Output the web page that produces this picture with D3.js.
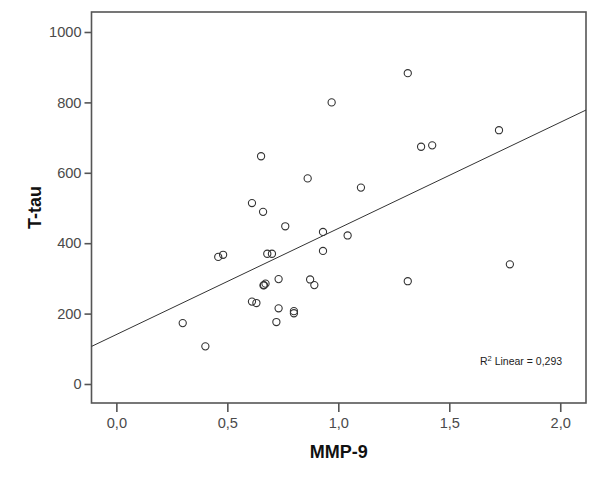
<!DOCTYPE html>
<html>
<head>
<meta charset="utf-8">
<script src="https://cdn.jsdelivr.net/npm/d3@7"></script>
<style>
  html, body { margin: 0; padding: 0; background: #fff; }
  svg { display: block; }
</style>
</head>
<body>
<svg id="chart" width="600" height="482"></svg>
<script>
// MMP-9 values (x)
const mmp9 = [0.299, 0.401, 0.459, 0.481, 0.680, 0.701, 0.665, 0.672, 0.663, 0.731,
              0.611, 0.631, 0.731, 0.721, 0.800, 0.800, 0.652, 0.611, 0.661, 0.761,
              0.862, 0.931, 1.042, 0.931, 0.873, 0.892, 0.970, 1.102, 1.313, 1.373,
              1.423, 1.724, 1.313, 1.773];
// T-tau values (y)
const ttau = [173, 107, 361, 367, 370, 370, 281, 285, 280, 298,
              234, 230, 215, 176, 207, 201, 647, 514, 489, 448,
              584, 432, 422, 378, 297, 281, 800, 558, 883, 674,
              678, 721, 292, 340];
const xTicks = [0, 0.5, 1.0, 1.5, 2.0];
const yTicks = [0, 200, 400, 600, 800, 1000];
const xTitle = "MMP-9";
const yTitle = "T-tau";
const r2Label = "0,293";

const svg = d3.select("#chart");
const L = 91.5, R = 586, T = 12, B = 403;
const x = d3.scaleLinear().domain([-0.112, 2.116]).range([L, R]);
const y = d3.scaleLinear().domain([-54, 1056.8]).range([B, T]);

const fmt = d => d3.format(".1f")(d).replace(".", ",");
const font = "'Liberation Sans', Arial, sans-serif";
const gray = "#555";

// frame
svg.append("rect").attr("x", L).attr("y", T).attr("width", R - L).attr("height", B - T)
  .attr("fill", "#fff").attr("stroke", gray).attr("stroke-width", 1.6);

// y axis
const gy = svg.append("g").attr("transform", `translate(${L},0)`)
  .call(d3.axisLeft(y).tickValues(yTicks).tickSize(7).tickSizeOuter(0).tickPadding(3).tickFormat(d3.format("d")));
gy.select(".domain").remove();
gy.selectAll("line").attr("stroke", gray).attr("stroke-width", 1.6);
gy.selectAll("text").attr("font-family", font).attr("font-size", 14.6).attr("fill", "#4a4a4a");

// x axis
const gx = svg.append("g").attr("transform", `translate(0,${B})`)
  .call(d3.axisBottom(x).tickValues(xTicks).tickSize(9).tickSizeOuter(0).tickPadding(6).tickFormat(fmt));
gx.select(".domain").remove();
gx.selectAll("line").attr("stroke", gray).attr("stroke-width", 1.6);
gx.selectAll("text").attr("font-family", font).attr("font-size", 14.6).attr("fill", "#4a4a4a");

// titles
svg.append("text").attr("x", (L + R) / 2).attr("y", 458).attr("text-anchor", "middle")
  .attr("font-family", font).attr("font-size", 18).attr("font-weight", "bold").attr("fill", "#111")
  .text(xTitle);
svg.append("text").attr("transform", `translate(41,${(T + B) / 2}) rotate(-90)`)
  .attr("text-anchor", "middle")
  .attr("font-family", font).attr("font-size", 18).attr("font-weight", "bold").attr("fill", "#111")
  .text(yTitle);

// regression line (least squares)
const mx = d3.mean(mmp9), my = d3.mean(ttau);
const sxy = d3.sum(mmp9, (v, i) => (v - mx) * (ttau[i] - my));
const sxx = d3.sum(mmp9, v => (v - mx) * (v - mx));
const slope = sxy / sxx, icpt = my - slope * mx;
const xd = x.domain();
svg.append("line")
  .attr("x1", x(xd[0])).attr("y1", y(icpt + slope * xd[0]))
  .attr("x2", x(xd[1])).attr("y2", y(icpt + slope * xd[1]))
  .attr("stroke", "#333").attr("stroke-width", 1);

// points
svg.append("g").selectAll("circle").data(mmp9.map((v, i) => [v, ttau[i]])).join("circle")
  .attr("cx", d => x(d[0])).attr("cy", d => y(d[1])).attr("r", 3.6)
  .attr("fill", "none").attr("stroke", "#333").attr("stroke-width", 1.1);

// R2 label
const t = svg.append("text").attr("x", 480).attr("y", 365)
  .attr("font-family", font).attr("font-size", 10.5).attr("fill", "#222");
t.append("tspan").text("R");
t.append("tspan").attr("dy", -4).attr("font-size", 7.5).text("2");
t.append("tspan").attr("dy", 4).text(" Linear = " + r2Label);
</script>
</body>
</html>
